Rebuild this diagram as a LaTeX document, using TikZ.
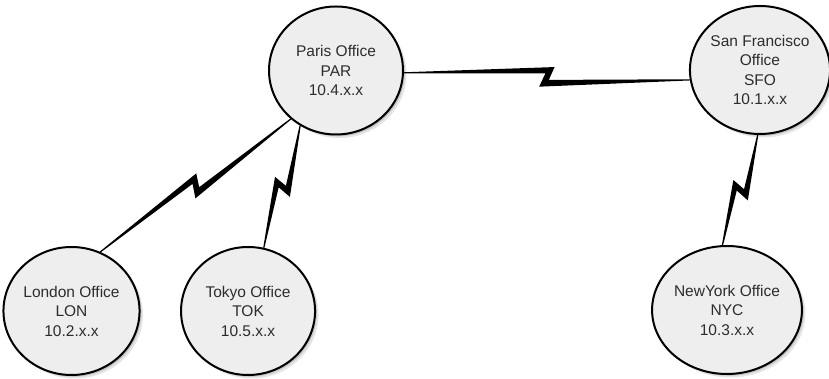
\documentclass[tikz,border=0pt]{standalone}
\usepackage{fontspec}
\setmainfont{Liberation Sans}
\usetikzlibrary{positioning, calc, shapes.geometric, shadows}
\definecolor{officeFill}{RGB}{238,238,238}
\definecolor{officeText}{RGB}{45,45,45}
\tikzset{
	office/.style={ellipse, draw=black, line width=2pt, fill=officeFill,
		minimum width=134pt, minimum height=128pt, inner sep=0pt, align=center,
		text=officeText, font=\fontsize{15.5}{19.5}\selectfont,
		drop shadow={shadow xshift=3.5pt, shadow yshift=-3.5pt, fill=black, opacity=0.10},
		drop shadow={shadow xshift=1.8pt, shadow yshift=-1.8pt, fill=black, opacity=0.14}},
	boltfill/.style={fill=black}
}
% lightning link: thin at both ends, zigzag in the middle
\newcommand{\boltlink}[2]{%
	\coordinate (ba) at (#1);
	\coordinate (bb) at (#2);
	\coordinate (bm) at ($(ba)!0.5!(bb)$);
	\coordinate (bf) at ($(bm)!7.5pt!(bb)$);
	\coordinate (bg) at ($(bm)!2pt!(bb)$);
	\coordinate (bh) at ($(bm)!-1.5pt!(bb)$);
	\coordinate (bk) at ($(bm)!-7.5pt!(bb)$);
	\fill[boltfill] ($(ba)!0.6pt!90:(bb)$) -- ($(bf)!9.5pt!90:(bb)$)
		-- ($(bg)!3.5pt!-90:(bb)$) -- ($(bb)!0.6pt!-90:(ba)$)
		-- ($(bb)!0.6pt!90:(ba)$) -- ($(bk)!10.5pt!-90:(bb)$)
		-- ($(bh)!3pt!90:(bb)$) -- ($(ba)!0.6pt!-90:(bb)$) -- cycle;
}

\begin{document}
\begin{tikzpicture}[x=1pt, y=1pt]
	\useasboundingbox (0,0) rectangle (829,379);
	\node[office] (par) at (336,308.5) {Paris Office\\PAR\\10.4.x.x};
	\node[office] (sfo) at (760,309) {San Francisco\\Office\\SFO\\10.1.x.x};
	\node[office] (lon) at (71.5,68) {London Office\\LON\\10.2.x.x};
	\node[office, right=39.5pt of lon] (tok) {Tokyo Office\\TOK\\10.5.x.x};
	\node[office] (nyc) at (727,69) {NewYork Office\\NYC\\10.3.x.x};
	\boltlink{par.-2}{sfo.188.5}
	\boltlink{lon.64}{par.227.6}
	\boltlink{tok.76}{par.237}
	\boltlink{nyc.94.5}{sfo.268}
\end{tikzpicture}
\end{document}
